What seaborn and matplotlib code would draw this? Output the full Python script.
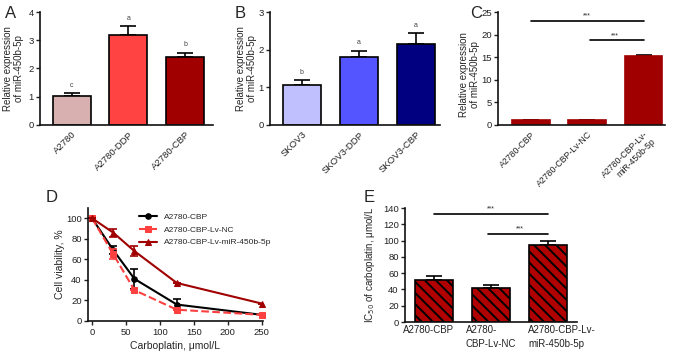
import numpy as np
import pandas as pd
import matplotlib
matplotlib.use("Agg")
import matplotlib.pyplot as plt
import matplotlib.transforms as mtransforms
import seaborn as sns

# ---- data ----
a_labels = ["A2780", "A2780-DDP", "A2780-CBP"]
a_means = [1.02, 3.2, 2.39]
a_sd = [0.1, 0.3, 0.17]
a_letters = ["c", "a", "b"]
a_colors = ["#d8b0b0", "#ff4242", "#a00000"]

b_labels = ["SKOV3", "SKOV3-DDP", "SKOV3-CBP"]
b_means = [1.06, 1.81, 2.14]
b_sd = [0.13, 0.16, 0.3]
b_letters = ["b", "a", "a"]
b_colors = ["#c0c0ff", "#5555ff", "#000080"]

c_labels = ["A2780-CBP", "A2780-CBP-Lv-NC", "A2780-CBP-Lv-\nmiR-450b-5p"]
c_means = [1.0, 1.0, 15.3]
c_sd = [0.08, 0.08, 0.1]

d_dose = [0, 31.25, 62.5, 125, 250]
d_series = ["A2780-CBP", "A2780-CBP-Lv-NC", "A2780-CBP-Lv-miR-450b-5p"]
d_cbp = [100, 69, 41, 16, 6]
d_cbp_sd = [0, 4, 10, 5, 0]
d_nc = [100, 65, 30, 11, 6]
d_nc_sd = [0, 5, 0, 0, 0]
d_mir = [100, 86, 68, 37, 17]
d_mir_sd = [0, 4, 5, 0, 0]

e_labels = ["A2780-CBP", "A2780-\nCBP-Lv-NC", "A2780-CBP-Lv-\nmiR-450b-5p"]
e_means = [51, 42, 95]
e_sd = [5, 4, 5]

sns.set_style("ticks")
plt.rcParams["font.family"] = ["Liberation Sans", "DejaVu Sans"]
plt.rcParams["hatch.linewidth"] = 1.4
plt.rcParams["hatch.color"] = "black"

W, H = 674, 353
fig = plt.figure(figsize=(W / 100, H / 100), dpi=100)


def box(l, r, t, b):
    return [l / W, 1 - b / H, (r - l) / W, (b - t) / H]


def style_ax(ax):
    sns.despine(ax=ax)
    for s in ["left", "bottom"]:
        ax.spines[s].set_linewidth(1.2)
        ax.spines[s].set_color("#111111")
    ax.tick_params(axis="y", length=3, width=1, labelsize=6.8, colors="#222222", pad=1.5)
    ax.tick_params(axis="x", labelsize=6.8, colors="#222222")


def bar_panel(ax, labels, means, sd, colors, edge="black", hatch=None):
    df = pd.DataFrame({"g": labels, "v": means})
    sns.barplot(data=df, x="g", y="v", hue="g", palette=colors, legend=False, saturation=1,
                errorbar=None, width=0.67, edgecolor=edge, linewidth=1.2, ax=ax)
    if hatch:
        for p in ax.patches:
            p.set_hatch(hatch)
    ax.errorbar(range(len(means)), means, yerr=[np.zeros(len(sd)), sd], fmt="none",
                ecolor="black", elinewidth=1.2, capsize=6, capthick=1.2, zorder=0.5)
    style_ax(ax)
    ax.set_xlabel("")
    ax.tick_params(axis="x", length=0)


# ---- A ----
axA = fig.add_axes(box(40, 213, 12, 125))
bar_panel(axA, a_labels, a_means, a_sd, a_colors)
axA.set_xlim(-0.56, 2.49)
axA.set_ylim(0, 4)
axA.set_yticks([0, 1, 2, 3, 4])
for i, t in enumerate(a_letters):
    axA.text(i, a_means[i] + a_sd[i] + 0.15, t, ha="center", va="bottom", fontsize=5, color="#444444")
axA.set_ylabel("Relative expression\nof miR-450b-5p", fontsize=7)
axA.yaxis.set_label_coords(-0.09, 0.5)
plt.setp(axA.get_xticklabels(), rotation=45, ha="right", rotation_mode="anchor")

# ---- B ----
axB = fig.add_axes(box(270, 440, 12, 125))
bar_panel(axB, b_labels, b_means, b_sd, b_colors)
axB.set_xlim(-0.56, 2.42)
axB.set_ylim(0, 3)
axB.set_yticks([0, 1, 2, 3])
for i, t in enumerate(b_letters):
    axB.text(i, b_means[i] + b_sd[i] + 0.12, t, ha="center", va="bottom", fontsize=5, color="#444444")
axB.set_ylabel("Relative expression\nof miR-450b-5p", fontsize=7)
axB.yaxis.set_label_coords(-0.075, 0.5)
plt.setp(axB.get_xticklabels(), rotation=45, ha="right", rotation_mode="anchor")

# ---- C ----
axC = fig.add_axes(box(498, 665, 12, 125))
bar_panel(axC, c_labels, c_means, c_sd, ["#a00000"] * 3, edge="#a00000")
axC.set_xlim(-0.58, 2.38)
axC.set_ylim(0, 25)
axC.set_yticks([0, 5, 10, 15, 20, 25])
axC.plot([0, 2], [23.1, 23.1], color="black", lw=1.2)
axC.plot([1.05, 2], [18.7, 18.7], color="black", lw=1.2)
axC.text(1, 23.4, "***", ha="center", va="bottom", fontsize=5)
axC.text(1.5, 19.0, "***", ha="center", va="bottom", fontsize=5)
axC.set_ylabel("Relative expression\nof miR-450b-5p", fontsize=7)
axC.yaxis.set_label_coords(-0.105, 0.45)
plt.setp(axC.get_xticklabels(), rotation=45, ha="right", rotation_mode="anchor", fontsize=6.3)

# ---- D ----
axD = fig.add_axes(box(88, 263, 208, 321))
d_vals = [d_cbp, d_nc, d_mir]
d_sds = [d_cbp_sd, d_nc_sd, d_mir_sd]
d_colors = ["black", "#ff4040", "#a00000"]
d_markers = ["o", "s", "^"]
d_ls = ["-", "--", "-"]
for name, v, s, c, m, ls in zip(d_series, d_vals, d_sds, d_colors, d_markers, d_ls):
    df = pd.DataFrame({"dose": d_dose, "v": v})
    sns.lineplot(data=df, x="dose", y="v", color=c, marker=m, markersize=4, markeredgecolor=c,
                 linestyle=ls, lw=1.5, ax=axD, label=name, clip_on=False)
    axD.errorbar(d_dose, v, yerr=s, fmt="none", ecolor=c, elinewidth=1.2, capsize=3, capthick=1.2)
axD.set_xlim(-6, 252)
axD.set_ylim(0, 110)
axD.set_xticks([0, 50, 100, 150, 200, 250])
axD.set_yticks([0, 20, 40, 60, 80, 100])
style_ax(axD)
axD.tick_params(axis="x", length=3, width=1, pad=2)
axD.set_xlabel("Carboplatin, μmol/L", fontsize=7.5, labelpad=3)
axD.set_ylabel("Cell viability, %", fontsize=7.5)
axD.yaxis.set_label_coords(-0.13, 0.5)
axD.legend(loc="upper left", bbox_to_anchor=(0.26, 1.0), frameon=False, fontsize=6,
           handlelength=2.2, labelspacing=0.6, borderaxespad=0.2)

# ---- E ----
axE = fig.add_axes(box(405, 577, 208, 322))
bar_panel(axE, e_labels, e_means, e_sd, ["#b00000"] * 3, hatch="\\\\\\")
axE.set_xlim(-0.51, 2.51)
axE.set_ylim(0, 140)
axE.set_yticks(range(0, 141, 20))
axE.plot([0, 2], [132.6, 132.6], color="black", lw=1.2)
axE.plot([0.95, 2], [108, 108], color="black", lw=1.2)
axE.text(1, 134, "***", ha="center", va="bottom", fontsize=5)
axE.text(1.5, 109.5, "***", ha="center", va="bottom", fontsize=5)
axE.set_ylabel("IC$_{50}$ of carboplatin, μmol/L", fontsize=7)
axE.yaxis.set_label_coords(-0.165, 0.5)
axE.tick_params(axis="x", pad=2)
for lbl, dx in zip(axE.get_xticklabels(), [-6, 0, 14]):
    lbl.set_multialignment("left")
    lbl.set_fontsize(7)
    lbl.set_linespacing(1.5)
    lbl.set_transform(lbl.get_transform() + mtransforms.ScaledTranslation(dx / 100, 0, fig.dpi_scale_trans))

# ---- panel letters ----
for lab, x, y in [("A", 11, 13), ("B", 240, 13), ("C", 476, 13), ("D", 52, 198), ("E", 369, 198)]:
    fig.text(x / W, 1 - y / H, lab, ha="center", va="center", fontsize=12)

plt.savefig("out.png", dpi=100)
